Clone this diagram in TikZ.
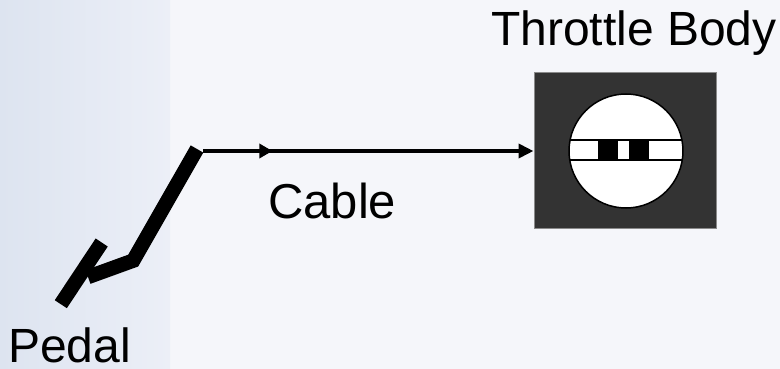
\documentclass[tikz,border=0pt]{standalone}
\usepackage{fontspec}
\setmainfont{Liberation Sans}
\usetikzlibrary{arrows.meta,decorations.markings}

\definecolor{bgmain}{HTML}{F5F6FA}
\definecolor{bgleft}{HTML}{DDE4F0}
\definecolor{bgedge}{HTML}{ECEFF7}
\definecolor{bodyfill}{HTML}{333333}
\definecolor{bodyline}{HTML}{8A8A8A}

\tikzset{
  label text/.style={font=\fontsize{48}{52}\selectfont, inner sep=0pt, anchor=base west},
  pedal bar/.style={line width=14.5pt, line cap=butt, line join=miter},
  cable/.style={line width=4pt,
    -{Triangle[length=15pt,width=14pt]},
    postaction={decorate},
    decoration={markings,
      mark=at position 0.21 with {\arrow{Triangle[length=13pt,width=14pt]}}}},
  body box/.style={draw=bodyline, line width=1pt, fill=bodyfill,
    minimum width=182pt, minimum height=155pt, inner sep=0pt},
  vane/.style={fill=black}
}

\begin{document}
\begin{tikzpicture}[x=1pt,y=-1pt]
  % canvas and soft panel on the left
  \useasboundingbox (0,0) rectangle (780,369);
  \fill[bgmain] (0,0) rectangle (780,369);
  \shade[left color=bgleft, right color=bgedge] (0,0) rectangle (170,369);

  % pedal: lever, arm and foot pad
  \coordinate (leverTop) at (197,149);
  \coordinate (knee) at (133.2,260.6);
  \coordinate (armEnd) at (88,277);
  \coordinate (padLow) at (60.8,304.2);
  \coordinate (padHigh) at (101.7,242.5);
  \draw[pedal bar] (leverTop) -- (knee) -- (armEnd);
  \draw[pedal bar] (padLow) -- (padHigh);

  % throttle body housing
  \node[body box] (body) at (625,150.5) {};

  % throttle plate seen end-on
  \node[circle, minimum size=114pt, inner sep=0pt] (bore) at (626,151) {};
  \fill[white] (bore.center) circle (57);
  \begin{scope}
    \clip (bore.center) circle (57);
    \draw[black, line width=1.5pt, fill=white] (560,140) rectangle (700,160);
    \fill[vane] (598,140) rectangle (618,160);
    \fill[vane] (629,140) rectangle (649,160);
  \end{scope}
  \draw[black, line width=1.5pt] (bore.center) circle (57);

  % cable from pedal to throttle body
  \coordinate (cableStart) at (203,151);
  \draw[cable] (cableStart) -- (body.west |- cableStart);

  % labels
  \node[label text] (tbLabel) at (491,46) {Throttle Body};
  \node[label text, font=\fontsize{49}{52}\selectfont] (cableLabel) at (268,218) {Cable};
  \node[label text] (pedalLabel) at (8,362) {Pedal};
\end{tikzpicture}
\end{document}
